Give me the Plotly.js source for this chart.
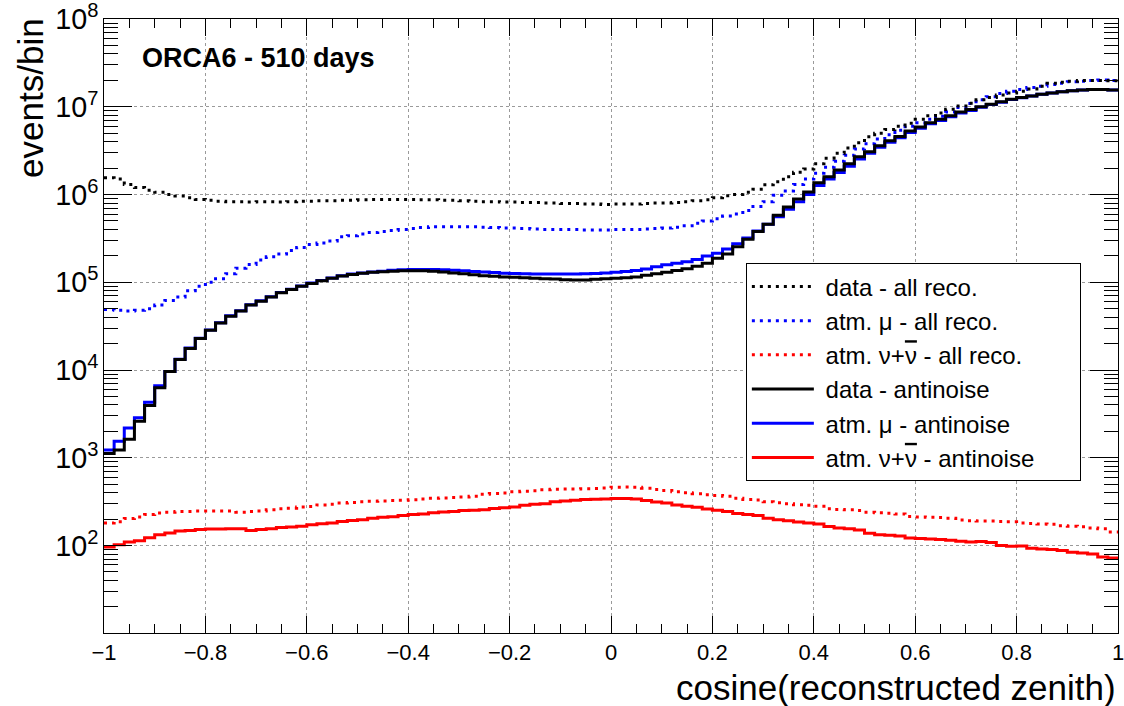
<!DOCTYPE html>
<html><head><meta charset="utf-8">
<script src="https://cdn.plot.ly/plotly-3.0.1.min.js"></script>
<style>html,body{margin:0;padding:0;background:#fff}#chart{width:1124px;height:706px}</style>
</head><body><div id="chart"></div>
<script>
// Histogram binning: 100 bins of cos(zenith) from -1 to 1
const nBins = 100;
const xMin = -1;
const xMax = 1;

// legend labels, split so that the anti-neutrino symbol gets an overline
const seriesLabelParts = [
  ['data - all reco.'],
  ['atm. \u03bc - all reco.'],
  ['atm. \u03bd+', '\u03bd', ' - all reco.'],
  ['data - antinoise'],
  ['atm. \u03bc - antinoise'],
  ['atm. \u03bd+', '\u03bd', ' - antinoise']
];

const dataAllReco = [
  1.55e6, 1.5e6, 1.3e6, 1.2e6, 1.12e6, 1.06e6, 1.0e6, 9.6e5, 9.2e5, 8.8e5,
  8.6e5, 8.4e5, 8.3e5, 8.3e5, 8.2e5, 8.3e5, 8.3e5, 8.2e5, 8.3e5, 8.4e5,
  8.4e5, 8.5e5, 8.5e5, 8.6e5, 8.6e5, 8.7e5, 8.8e5, 8.8e5, 8.8e5, 8.8e5,
  8.8e5, 8.7e5, 8.7e5, 8.6e5, 8.6e5, 8.5e5, 8.4e5, 8.3e5, 8.3e5, 8.2e5,
  8.2e5, 8.1e5, 8.1e5, 8.0e5, 8.0e5, 7.9e5, 7.9e5, 7.8e5, 7.8e5, 7.7e5,
  7.8e5, 7.8e5, 7.8e5, 7.9e5, 8.0e5, 8.0e5, 8.1e5, 8.3e5, 8.5e5, 8.7e5,
  9.2e5, 9.7e5, 1.0e6, 1.06e6, 1.15e6, 1.29e6, 1.4e6, 1.6e6, 1.8e6, 1.95e6,
  2.25e6, 2.6e6, 2.96e6, 3.4e6, 3.9e6, 4.55e6, 5.0e6, 5.5e6, 6.0e6, 6.5e6,
  7.2e6, 7.9e6, 8.5e6, 9.4e6, 1.02e7, 1.1e7, 1.2e7, 1.28e7, 1.36e7, 1.44e7,
  1.5e7, 1.6e7, 1.72e7, 1.85e7, 1.9e7, 1.95e7, 2.0e7, 2.0e7, 2.0e7, 1.98e7
];

const muAllReco = [
  4.9e4, 4.8e4, 4.7e4, 4.8e4, 5.0e4, 5.5e4, 6.2e4, 6.8e4, 8.0e4, 9.0e4,
  1.0e5, 1.1e5, 1.25e5, 1.45e5, 1.6e5, 1.8e5, 1.95e5, 2.1e5, 2.3e5, 2.5e5,
  2.7e5, 2.8e5, 2.95e5, 3.3e5, 3.4e5, 3.55e5, 3.7e5, 3.8e5, 3.9e5, 4.0e5,
  4.1e5, 4.2e5, 4.3e5, 4.3e5, 4.3e5, 4.3e5, 4.3e5, 4.25e5, 4.2e5, 4.15e5,
  4.15e5, 4.1e5, 4.05e5, 4.0e5, 4.0e5, 4.0e5, 4.0e5, 3.95e5, 3.95e5, 3.95e5,
  4.0e5, 4.0e5, 4.0e5, 4.05e5, 4.1e5, 4.15e5, 4.25e5, 4.4e5, 4.7e5, 5.0e5,
  5.3e5, 5.7e5, 6.0e5, 6.6e5, 7.3e5, 8.3e5, 9.8e5, 1.1e6, 1.3e6, 1.5e6,
  1.75e6, 2.05e6, 2.4e6, 2.8e6, 3.3e6, 3.8e6, 4.3e6, 4.8e6, 5.4e6, 6.0e6,
  6.6e6, 7.2e6, 7.8e6, 8.7e6, 9.8e6, 1.09e7, 1.2e7, 1.3e7, 1.42e7, 1.5e7,
  1.58e7, 1.66e7, 1.72e7, 1.8e7, 1.86e7, 1.93e7, 1.96e7, 2.0e7, 2.02e7, 2.0e7
];

const nuAllReco = [
  181, 187, 203, 211, 225, 235, 240, 245, 245, 247,
  247, 247, 248, 240, 245, 248, 255, 262, 266, 274,
  278, 290, 296, 305, 310, 316, 320, 322, 325, 328,
  332, 340, 345, 348, 352, 358, 365, 385, 392, 398,
  410, 415, 420, 432, 437, 440, 442, 445, 448, 452,
  462, 464, 460, 450, 435, 425, 410, 400, 390, 378,
  372, 365, 345, 335, 330, 315, 308, 300, 292, 287,
  280, 262, 258, 255, 250, 240, 236, 233, 228, 214,
  212, 210, 208, 205, 195, 192, 190, 190, 188, 186,
  180, 178, 176, 175, 168, 166, 164, 158, 155, 143
];

const dataAntinoise = [
  1.12e3, 1.23e3, 1.63e3, 2.6e3, 3.95e3, 6.3e3, 9.6e3, 1.32e4, 1.76e4, 2.29e4,
  2.84e4, 3.44e4, 4.1e4, 4.7e4, 5.5e4, 6.1e4, 6.8e4, 7.6e4, 8.3e4, 9.0e4,
  9.7e4, 1.04e5, 1.11e5, 1.18e5, 1.23e5, 1.27e5, 1.3e5, 1.32e5, 1.34e5, 1.35e5,
  1.35e5, 1.35e5, 1.34e5, 1.31e5, 1.28e5, 1.25e5, 1.22e5, 1.19e5, 1.17e5, 1.15e5,
  1.14e5, 1.13e5, 1.11e5, 1.1e5, 1.09e5, 1.07e5, 1.06e5, 1.06e5, 1.08e5, 1.1e5,
  1.11e5, 1.13e5, 1.15e5, 1.2e5, 1.25e5, 1.3e5, 1.36e5, 1.43e5, 1.52e5, 1.65e5,
  1.88e5, 2.1e5, 2.55e5, 3.1e5, 3.8e5, 4.6e5, 5.8e5, 7.2e5, 8.9e5, 1.07e6,
  1.36e6, 1.6e6, 1.9e6, 2.25e6, 2.7e6, 3.07e6, 3.6e6, 4.1e6, 4.6e6, 5.3e6,
  5.9e6, 6.6e6, 7.2e6, 7.9e6, 8.7e6, 9.3e6, 1.0e7, 1.07e7, 1.14e7, 1.22e7,
  1.28e7, 1.33e7, 1.39e7, 1.44e7, 1.48e7, 1.52e7, 1.55e7, 1.57e7, 1.57e7, 1.55e7
];

const muAntinoise = [
  1.23e3, 1.54e3, 2.19e3, 2.85e3, 4.3e3, 6.6e3, 9.6e3, 1.33e4, 1.78e4, 2.3e4,
  2.86e4, 3.46e4, 4.15e4, 4.75e4, 5.55e4, 6.15e4, 6.85e4, 7.65e4, 8.35e4, 9.05e4,
  9.8e4, 1.05e5, 1.12e5, 1.19e5, 1.24e5, 1.28e5, 1.31e5, 1.34e5, 1.37e5, 1.39e5,
  1.4e5, 1.4e5, 1.4e5, 1.39e5, 1.37e5, 1.35e5, 1.33e5, 1.31e5, 1.29e5, 1.27e5,
  1.26e5, 1.25e5, 1.24e5, 1.24e5, 1.24e5, 1.24e5, 1.24e5, 1.25e5, 1.26e5, 1.28e5,
  1.3e5, 1.33e5, 1.36e5, 1.42e5, 1.5e5, 1.58e5, 1.65e5, 1.72e5, 1.82e5, 2.0e5,
  2.15e5, 2.4e5, 2.75e5, 3.2e5, 3.85e5, 4.6e5, 5.6e5, 6.8e5, 8.3e5, 1.0e6,
  1.27e6, 1.5e6, 1.78e6, 2.1e6, 2.55e6, 2.95e6, 3.45e6, 3.95e6, 4.45e6, 5.1e6,
  5.7e6, 6.4e6, 7.0e6, 7.7e6, 8.5e6, 9.1e6, 9.9e6, 1.06e7, 1.13e7, 1.21e7,
  1.27e7, 1.33e7, 1.39e7, 1.44e7, 1.48e7, 1.52e7, 1.55e7, 1.57e7, 1.57e7, 1.55e7
];

const nuAntinoise = [
  96, 102, 110, 113, 123, 133, 139, 146, 148, 152,
  154, 154, 155, 155, 148, 152, 155, 160, 163, 166,
  172, 177, 180, 188, 193, 197, 205, 210, 213, 220,
  225, 228, 236, 241, 244, 250, 252, 255, 265, 270,
  275, 288, 295, 300, 315, 322, 328, 334, 336, 340,
  343, 343, 340, 325, 313, 305, 290, 280, 273, 260,
  252, 245, 232, 225, 220, 205, 197, 192, 185, 181,
  176, 165, 158, 155, 150, 138, 133, 131, 128, 122,
  120, 119, 117, 115, 112, 110, 111, 108, 100, 98,
  99, 93, 91, 90, 88, 84, 82, 80, 74, 72
];

const xTickVals = [-1, -0.8, -0.6, -0.4, -0.2, 0, 0.2, 0.4, 0.6, 0.8, 1];

const edges = Array.from({length: nBins + 1}, (_, i) => xMin + (xMax - xMin) * i / nBins);
const stepY = v => v.concat([v[v.length - 1]]);

const FONT = 'Liberation Sans, Arial, Helvetica, sans-serif';
const DOT = '3px,5px';

function legendLabel(parts, padRight) {
  let out = '\u00a0' + parts[0];
  if (parts.length > 1) {
    out += '<span style="text-decoration:overline">' + parts[1] + '</span>' + parts[2];
  }
  if (padRight) out += '\u00a0\u00a0\u00a0\u00a0\u00a0\u00a0';
  return out;
}

function trace(values, idx, color, dash) {
  return {
    type: 'scatter', mode: 'lines',
    x: edges, y: stepY(values), name: legendLabel(seriesLabelParts[idx], idx === 5),
    line: {shape: 'hv', color: color, width: 3, dash: dash},
    legendrank: idx + 1,
    hoverinfo: 'x+y'
  };
}

const traces = [
  trace(muAllReco, 1, '#0000ff', DOT),
  trace(dataAllReco, 0, '#000000', DOT),
  trace(nuAllReco, 2, '#ff0000', DOT),
  trace(muAntinoise, 4, '#0000ff', 'solid'),
  trace(dataAntinoise, 3, '#000000', 'solid'),
  trace(nuAntinoise, 5, '#ff0000', 'solid')
];

const layout = {
  width: 1124, height: 706,
  margin: {l: 104, r: 6, t: 19, b: 73, pad: 0},
  paper_bgcolor: '#ffffff', plot_bgcolor: '#ffffff',
  font: {family: FONT, color: '#000000'},
  showlegend: true,
  legend: {
    x: 0.633, y: 0.602, xanchor: 'left', yanchor: 'top',
    bgcolor: '#ffffff', bordercolor: '#000000', borderwidth: 1,
    font: {family: FONT, size: 24, color: '#000000'},
    itemwidth: 62
  },
  xaxis: {
    range: [xMin, xMax], tickmode: 'array', tickvals: xTickVals,
    ticks: 'inside', ticklen: 17, tickwidth: 1, tickcolor: '#000000',
    showline: true, linecolor: '#000000', linewidth: 1, mirror: 'allticks',
    showgrid: true, gridcolor: '#9a9a9a', griddash: 'dot', gridwidth: 1,
    zeroline: false, ticklabeloverflow: 'allow',
    tickfont: {family: FONT, size: 22, color: '#000000'},
    minor: {dtick: 0.05, tick0: 0, ticks: 'inside', ticklen: 9, tickcolor: '#000000', showgrid: false}
  },
  yaxis: {
    type: 'log', range: [1.003, 8.0008], dtick: 1, exponentformat: 'power',
    ticks: 'inside', ticklen: 28, tickwidth: 1, tickcolor: '#000000',
    showline: true, linecolor: '#000000', linewidth: 1, mirror: 'allticks',
    showgrid: true, gridcolor: '#9a9a9a', griddash: 'dot', gridwidth: 1,
    zeroline: false, ticklabeloverflow: 'allow',
    tickfont: {family: FONT, size: 23, color: '#000000'},
    minor: {dtick: 'D1', ticks: 'inside', ticklen: 14, tickcolor: '#000000', showgrid: false}
  },
  annotations: [
    {text: '<b>ORCA6 - 510 days</b>', xref: 'paper', yref: 'paper', x: 0.0355, y: 0.9365,
     xanchor: 'left', yanchor: 'middle', showarrow: false, font: {family: FONT, size: 27, color: '#000000'}},
    {text: 'cosine(reconstructed zenith)', xref: 'paper', yref: 'paper', x: 1.0, y: -0.088,
     xanchor: 'right', yanchor: 'middle', showarrow: false, font: {family: FONT, size: 35, color: '#000000'}},
    {text: 'events/bin', xref: 'paper', yref: 'paper', x: -0.072, y: 1.005, textangle: -90,
     xanchor: 'center', yanchor: 'top', showarrow: false, font: {family: FONT, size: 35, color: '#000000'}}
  ]
};

Plotly.newPlot('chart', traces, layout, {displayModeBar: false, staticPlot: true});
</script>
</body></html>
